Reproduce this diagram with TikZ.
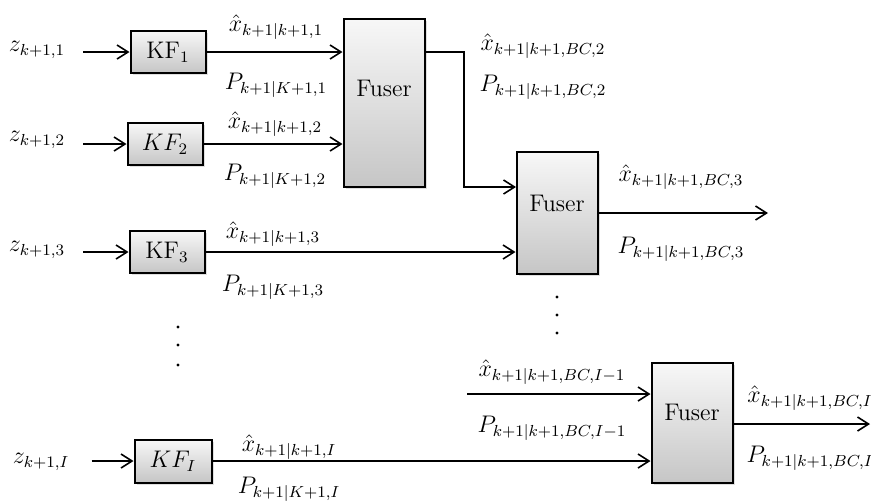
\documentclass[tikz,border=0pt]{standalone}
\usepackage{tikz}
\usetikzlibrary{arrows.meta,shadows}

\begin{document}
\begin{tikzpicture}[x=0.5pt,y=-0.5pt,
    arr/.style={-{Straight Barb[length=5.5pt,width=7pt]}, line width=0.8pt},
    blk/.style={draw, line width=1pt, top color=gray!6, bottom color=gray!45,
        drop shadow={opacity=0.25, shadow xshift=1pt, shadow yshift=-1.2pt},
        inner sep=0pt, minimum width=37.5pt, minimum height=21pt, font=\large},
    fus/.style={blk, minimum width=40.5pt},
    lbl/.style={inner sep=0pt, font=\large}]
        \useasboundingbox (0,0) rectangle (871,500);

        \node [blk] (kf1) at (168,52) {KF$_1$};
        \node [blk] (kf2) at (165,144) {$KF_2$};
        \node [blk] (kf3) at (167,252) {KF$_3$};
        \node [blk, minimum width=38.5pt, minimum height=21.5pt] (kfI) at (173,461) {$KF_I$};

        \node [fus, minimum height=84pt, label={[font=\large, yshift=7.5pt]center:Fuser}] (fus1) at (384,103) {};
        \node [fus, minimum height=61pt, label={[font=\large, yshift=5pt]center:Fuser}] (fus2) at (557,213) {};
        \node [fus, minimum height=60pt, label={[font=\large, yshift=5.5pt]center:Fuser}] (fus3) at (692,423) {};

        \node [lbl] (z1) at (37,50) {$z_{k+1,1}$};
        \node [lbl] (z2) at (37,140) {$z_{k+1,2}$};
        \node [lbl] (z3) at (37,250) {$z_{k+1,3}$};
        \node [lbl] (zI) at (41,462) {$z_{k+1,I}$};

        \draw [arr, shorten <=9pt] (z1.east |- kf1) -- (kf1.west);
        \draw [arr, shorten <=9pt] (z2.east |- kf2) -- (kf2.west);
        \draw [arr, shorten <=9pt] (z3.east |- kf3) -- (kf3.west);
        \draw [arr, shorten <=11pt] (zI.east |- kfI) -- (kfI.west);

        \draw [arr] (kf1.east) -- (kf1.east -| fus1.west);
        \draw [arr] (kf2.east) -- (kf2.east -| fus1.west);
        \draw [arr] (kf3.east) -- (kf3.east -| fus2.west);
        \draw [arr] (kfI.east) -- (kfI.east -| fus3.west);

        \node [lbl] (xh1) at (276,27) {$\hat{x}_{k+1|k+1,1}$};
        \node [lbl] (p1) at (276,85) {$P_{k+1|K+1,1}$};
        \node [lbl] (xh2) at (275,124) {$\hat{x}_{k+1|k+1,2}$};
        \node [lbl] (p2) at (275,176) {$P_{k+1|K+1,2}$};
        \node [lbl] (xh3) at (273,234) {$\hat{x}_{k+1|k+1,3}$};
        \node [lbl] (p3) at (273,287) {$P_{k+1|K+1,3}$};
        \node [lbl] (xhI) at (289,447) {$\hat{x}_{k+1|k+1,I}$};
        \node [lbl] (pI) at (289,489) {$P_{k+1|K+1,I}$};

        \coordinate (bend) at (464,52);
        \coordinate (f2in) at (516,187);
        \draw [arr] (fus1.east |- kf1) -- (bend) |- (f2in);
        \node [lbl] (xhb2) at (543,46) {$\hat{x}_{k+1|k+1,BC,2}$};
        \node [lbl] (pb2) at (543,87) {$P_{k+1|k+1,BC,2}$};

        \coordinate (out2) at (768,213);
        \draw [arr] (fus2.east) -- (out2);
        \node [lbl] (xhb3) at (681,177) {$\hat{x}_{k+1|k+1,BC,3}$};
        \node [lbl] (pb3) at (681,249) {$P_{k+1|k+1,BC,3}$};

        \coordinate (in3) at (467,394);
        \draw [arr] (in3) -- (in3 -| fus3.west);
        \node [lbl] (xhbI1) at (552,372) {$\hat{x}_{k+1|k+1,BC,I-1}$};
        \node [lbl] (pbI1) at (552,428) {$P_{k+1|k+1,BC,I-1}$};

        \coordinate (out3) at (870,424);
        \draw [arr] (fus3.east |- out3) -- (out3);
        \node [lbl] (xhbI) at (810,398) {$\hat{x}_{k+1|k+1,BC,I}$};
        \node [lbl] (pbI) at (810,458) {$P_{k+1|k+1,BC,I}$};

        \foreach \y in {327,345,365}
            \fill (178,\y) circle [radius=1.6];
        \foreach \y in {297,315,333}
            \fill (557,\y) circle [radius=1.6];
      \end{tikzpicture}
\end{document}
